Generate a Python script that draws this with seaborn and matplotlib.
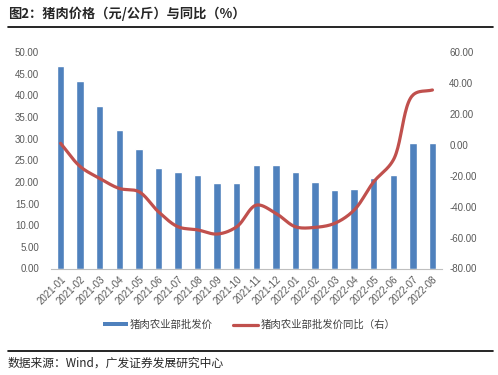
import numpy as np
import pandas as pd
import matplotlib
matplotlib.use("Agg")
import matplotlib.pyplot as plt
import seaborn as sns
from matplotlib.patches import Patch
from matplotlib.lines import Line2D

months = ["2021-01", "2021-02", "2021-03", "2021-04", "2021-05", "2021-06", "2021-07",
          "2021-08", "2021-09", "2021-10", "2021-11", "2021-12", "2022-01", "2022-02",
          "2022-03", "2022-04", "2022-05", "2022-06", "2022-07", "2022-08"]
price = [46.9, 43.3, 37.5, 32.1, 27.5, 23.3, 22.2, 21.5, 19.8, 19.8,
         24.0, 24.0, 22.2, 20.1, 18.2, 18.4, 20.8, 21.7, 29.1, 29.1]
yoy = [1.0, -14.0, -21.7, -28.2, -30.3, -43.3, -53.0, -55.0, -57.7, -53.0,
       -39.0, -44.3, -53.0, -53.4, -50.8, -42.2, -23.9, -9.8, 32.2, 35.5]
left_ticks = [0, 5, 10, 15, 20, 25, 30, 35, 40, 45, 50]
right_ticks = [-80, -60, -40, -20, 0, 20, 40, 60]

bar_label = "猪肉农业部批发价"
line_label = "猪肉农业部批发价同比（右）"
title = "图2：猪肉价格（元/公斤）与同比（%）"
source = "数据来源：Wind，广发证券发展研究中心"

sns.set_style("white")
plt.rcParams['font.family'] = ['Liberation Sans', 'Noto Sans CJK SC', 'DejaVu Sans']
cjk = ['Noto Sans CJK SC', 'DejaVu Sans']

BLUE = "#4F81BD"
RED = "#C0504D"
GREY = "#595959"


def centripetal_curve(xv, yv, yscale, n=24):
    """Smoothed line through the points (centripetal Catmull-Rom in screen-like units)."""
    P = np.column_stack([np.asarray(xv, float), np.asarray(yv, float) * yscale])
    P = np.vstack([2 * P[0] - P[1], P, 2 * P[-1] - P[-2]])
    out = []
    for i in range(1, len(P) - 2):
        p0, p1, p2, p3 = P[i - 1], P[i], P[i + 1], P[i + 2]
        t0 = 0.0
        t1 = t0 + np.linalg.norm(p1 - p0) ** 0.5
        t2 = t1 + np.linalg.norm(p2 - p1) ** 0.5
        t3 = t2 + np.linalg.norm(p3 - p2) ** 0.5
        t = np.linspace(t1, t2, n, endpoint=False)[:, None]
        a1 = (t1 - t) / (t1 - t0) * p0 + (t - t0) / (t1 - t0) * p1
        a2 = (t2 - t) / (t2 - t1) * p1 + (t - t1) / (t2 - t1) * p2
        a3 = (t3 - t) / (t3 - t2) * p2 + (t - t2) / (t3 - t2) * p3
        b1 = (t2 - t) / (t2 - t0) * a1 + (t - t0) / (t2 - t0) * a2
        b2 = (t3 - t) / (t3 - t1) * a2 + (t - t1) / (t3 - t1) * a3
        c = (t2 - t) / (t2 - t1) * b1 + (t - t1) / (t2 - t1) * b2
        out.append(c)
    out.append(P[-2][None, :])
    out = np.vstack(out)
    return out[:, 0], out[:, 1] / yscale


fig = plt.figure(figsize=(4.98, 3.75), dpi=100)
ax = fig.add_axes([0.102, 0.284, 0.786, 0.577])

df = pd.DataFrame({"month": months, "price": price})
sns.barplot(data=df, x="month", y="price", color=BLUE, saturation=1, width=0.38, ax=ax)
ax.set_ylim(0, 50)
ax.set_yticks(left_ticks)
ax.set_yticklabels([f"{v:.2f}" for v in left_ticks])
ax.set_xlabel("")
ax.set_ylabel("")
ax.set_xlim(-0.5, len(months) - 0.5)

ax2 = ax.twinx()
ax2.set_ylim(-80, 60)
# pixels per category vs pixels per percent, so the smoothing behaves like on screen
yscale = (0.577 * 375 / 140) / (0.786 * 498 / len(months))
xs, ys = centripetal_curve(np.arange(len(yoy)), yoy, yscale)
ax2.plot(xs, ys, color=RED, lw=2.3, solid_capstyle="round")
ax2.set_yticks(right_ticks)
ax2.set_yticklabels([f"{v:.2f}" for v in right_ticks])

for a in (ax, ax2):
    for s in ("top", "left", "right", "bottom"):
        a.spines[s].set_visible(False)
ax.spines["bottom"].set_visible(True)
ax.spines["bottom"].set_color("#BFBFBF")
ax.spines["bottom"].set_linewidth(0.8)

ax.tick_params(axis="y", length=0, labelsize=7, labelcolor=GREY, pad=8.5)
ax2.tick_params(axis="y", length=0, labelsize=7, labelcolor=GREY, pad=5)
ax.set_xticks(np.arange(len(months)))
ax.set_xticklabels(months, rotation=45, ha="right", rotation_mode="anchor", fontsize=7, color=GREY)
ax.tick_params(axis="x", length=0, pad=4)
ax.set_xticks(np.arange(-0.5, len(months)), minor=True)
ax.tick_params(axis="x", which="minor", length=4, color="#BFBFBF", width=0.8)

handles = [Patch(facecolor=BLUE, edgecolor="none"), Line2D([0], [0], color=RED, lw=2.3)]
fig.legend(handles, [bar_label, line_label], loc="center", bbox_to_anchor=(0.5, 0.134),
           ncol=2, frameon=False, prop={"family": cjk, "size": 7.5}, handlelength=2.4,
           handleheight=0.3, columnspacing=2.0, handletextpad=0.2, labelcolor="#404040")

fig.text(0.016, 0.963, title, fontsize=9.5, fontweight="bold", family=cjk, va="center", ha="left")
fig.add_artist(Line2D([0.016, 0.99], [0.928, 0.928], color="black", lw=1.2, transform=fig.transFigure))
fig.add_artist(Line2D([0.016, 0.99], [0.064, 0.064], color="black", lw=1.2, transform=fig.transFigure))
fig.text(0.016, 0.032, source, fontsize=8.5, family=cjk, va="center", ha="left")

fig.savefig("out.png", dpi=100)
